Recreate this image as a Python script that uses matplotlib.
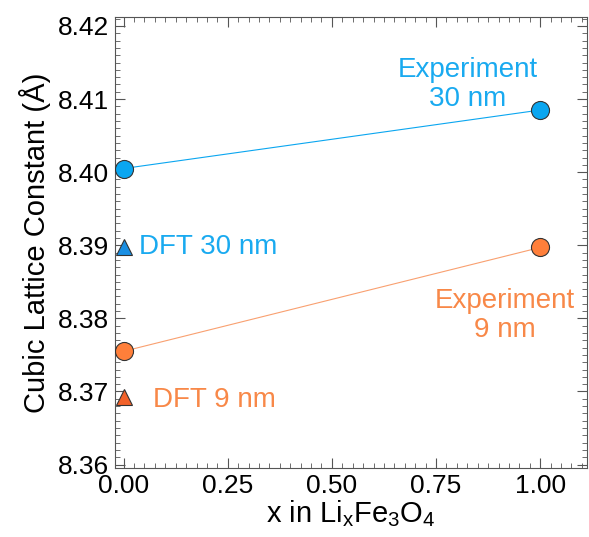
import matplotlib
matplotlib.use("Agg")
import matplotlib.pyplot as plt
from matplotlib.ticker import MultipleLocator

plt.rcParams['font.family'] = ['Liberation Sans', 'DejaVu Sans']

# dane
x_exp = [0.0, 1.0]
exp_30nm = [8.4005, 8.4085]
exp_9nm = [8.3755, 8.3897]
x_dft = [0.0]
dft_30nm = [8.3898]
dft_9nm = [8.3693]

blue = '#0AA6F0'
blue_tri = '#1A8FE3'
orange = '#FF7F3A'
orange_tri = '#F2622A'
blue_txt = '#19AAF0'
orange_txt = '#F88848'

fig = plt.figure(figsize=(5.89, 5.37), dpi=100)
ax = fig.add_axes([0.195, 0.128, 0.802, 0.840])

ax.plot(x_exp, exp_30nm, '-', color=blue, lw=0.8, zorder=2)
ax.plot(x_exp, exp_30nm, 'o', ms=13, mfc=blue, mec='#333333', mew=0.8, zorder=3)
ax.plot(x_exp, exp_9nm, '-', color='#F9A070', lw=0.8, zorder=2)
ax.plot(x_exp, exp_9nm, 'o', ms=13, mfc=orange, mec='#333333', mew=0.8, zorder=3)
ax.plot(x_dft, dft_30nm, '^', ms=12, mfc=blue_tri, mec='#333333', mew=0.8, zorder=3)
ax.plot(x_dft, dft_9nm, '^', ms=12, mfc=orange_tri, mec='#333333', mew=0.8, zorder=3)

ax.text(0.827, 8.4120, 'Experiment\n30 nm', color=blue_txt, fontsize=20, ha='center', va='center', linespacing=1.15)
ax.text(0.916, 8.3804, 'Experiment\n9 nm', color=orange_txt, fontsize=20, ha='center', va='center', linespacing=1.15)
ax.text(0.038, 8.3897, 'DFT 30 nm', color=blue_txt, fontsize=20, ha='left', va='center')
ax.text(0.070, 8.3689, 'DFT 9 nm', color=orange_txt, fontsize=20, ha='left', va='center')

ax.set_xlim(-0.021, 1.113)
ax.set_ylim(8.3595, 8.4212)
ax.xaxis.set_major_locator(MultipleLocator(0.25))
ax.xaxis.set_minor_locator(MultipleLocator(0.025))
ax.yaxis.set_major_locator(MultipleLocator(0.01))
ax.yaxis.set_minor_locator(MultipleLocator(0.001))
ax.xaxis.set_major_formatter(plt.FormatStrFormatter('%.2f'))
ax.yaxis.set_major_formatter(plt.FormatStrFormatter('%.2f'))
ax.tick_params(which='both', direction='in', top=True, right=True, labelsize=19, color='#555555', pad=4)
ax.tick_params(which='major', length=7, width=0.8)
ax.tick_params(which='minor', length=3.5, width=0.6)
for s in ax.spines.values():
    s.set_linewidth(0.8)
    s.set_color('#555555')

ax.set_xlabel(r'x in Li$_\mathregular{x}$Fe$_\mathregular{3}$O$_\mathregular{4}$', fontsize=21, labelpad=0)
ax.set_ylabel('Cubic Lattice Constant (Å)', fontsize=21, labelpad=5)

fig.savefig('out.png', dpi=100)
